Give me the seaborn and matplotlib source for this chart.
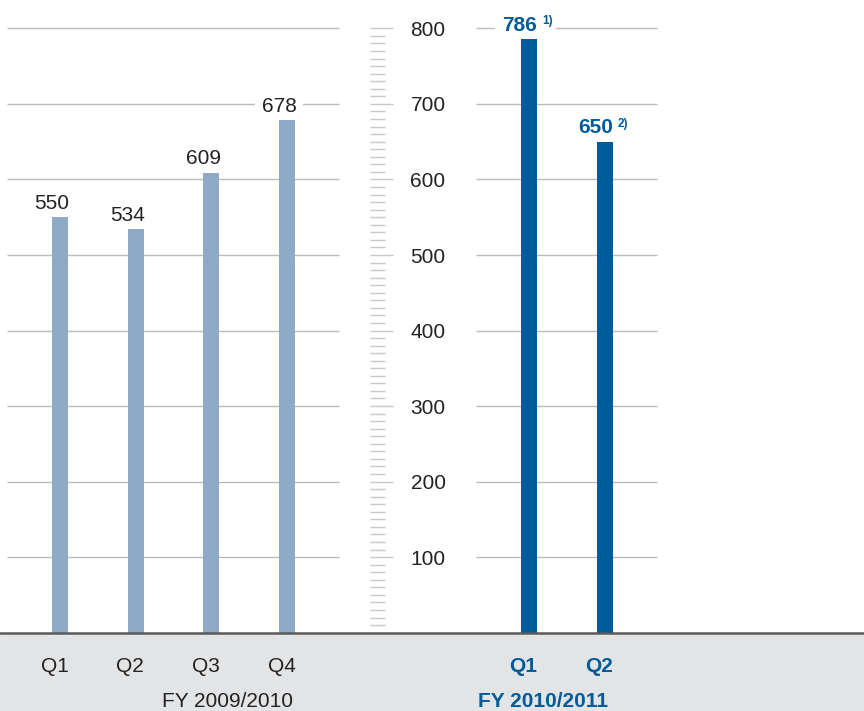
import numpy as np
import pandas as pd
import matplotlib
matplotlib.use("Agg")
import matplotlib.pyplot as plt
import seaborn as sns

# ---------------- data ----------------
quarters_prev = ["Q1", "Q2", "Q3", "Q4"]
values_prev = [550, 534, 609, 678]
quarters_curr = ["Q1", "Q2"]
values_curr = [786, 650]
notes_curr = ["1)", "2)"]
fy_prev = "FY 2009/2010"
fy_curr = "FY 2010/2011"
y_ticks = [100, 200, 300, 400, 500, 600, 700, 800]

# ---------------- style ----------------
sns.set_theme(style="white")
plt.rcParams["font.family"] = ["Liberation Sans", "DejaVu Sans"]

LIGHT = "#8eaac6"
DARK = "#005b9b"
TEXT = "#222222"
GRID = "#bcbcbc"
BAND = "#e3e4e6"
BASE = "#5a5a5a"

# layout (pixel-like units on x)
W, H = 864, 711
px_per_unit = 0.7555
y_top = 632.7 / px_per_unit
y_bot = -(H - 632.7) / px_per_unit
step_prev, start_prev = 75.67, 60
step_curr, start_curr = 76.0, 529
bar_w = 16

pos_prev = [start_prev + i * step_prev for i in range(len(values_prev))]
pos_curr = [start_curr + i * step_curr for i in range(len(values_curr))]

df_prev = pd.DataFrame({"pos": pos_prev, "value": values_prev, "q": quarters_prev})
df_curr = pd.DataFrame({"pos": pos_curr, "value": values_curr, "q": quarters_curr})

fig = plt.figure(figsize=(W / 100, H / 100), dpi=100)
ax = fig.add_axes([0, 0, 1, 1])

# band
ax.axhspan(y_bot, 0, color=BAND, zorder=0, lw=0)

# gridlines
for t in y_ticks:
    ax.hlines(t, 7, 339, color=GRID, lw=1.0, zorder=1)
    ax.hlines(t, 476, 657, color=GRID, lw=1.0, zorder=1)

# ladder of minor ticks
for v in range(10, 801, 10):
    x1 = 393 if v % 100 == 0 else 385
    ax.hlines(v, 370, x1, color="#c8c8c8", lw=1.0, zorder=1)

# y tick labels
for t in y_ticks:
    ax.text(428, t - 10, str(t), ha="center", va="baseline", fontsize=15,
            color=TEXT, zorder=3)

# bars
sns.barplot(data=df_prev, x="pos", y="value", native_scale=True,
            width=bar_w / step_prev, color=LIGHT, saturation=1,
            errorbar=None, ax=ax, zorder=2, linewidth=0, edgecolor="none")
sns.barplot(data=df_curr, x="pos", y="value", native_scale=True,
            width=bar_w / step_curr, color=DARK, saturation=1,
            errorbar=None, ax=ax, zorder=2, linewidth=0, edgecolor="none")

ax.axhline(0, color=BASE, lw=1.8, zorder=4)

# value labels
for p, v in zip(pos_prev, values_prev):
    ax.text(p - 8, v + 11, str(v), ha="center", va="baseline", fontsize=15,
            color=TEXT, zorder=1.5,
            bbox=dict(boxstyle="square,pad=0.3", fc="white", ec="none"))
for p, v, n in zip(pos_curr, values_curr, notes_curr):
    ax.text(p + 8, v + 11, str(v), ha="right", va="baseline", fontsize=15,
            fontweight="bold", color=DARK, zorder=1.5,
            bbox=dict(boxstyle="square,pad=0.35", fc="white", ec="none"))
    ax.text(p + 13, v + 11 + 8.5, n, ha="left", va="baseline", fontsize=8.5,
            fontweight="bold", color=DARK, zorder=1.5,
            bbox=dict(boxstyle="square,pad=0.3", fc="white", ec="none"))

# category labels
q_y = -41.4 - 10
fy_y = -87.8 - 10
for p, q in zip(pos_prev, quarters_prev):
    ax.text(p - 5.5, q_y, q, ha="center", va="baseline", fontsize=15, color=TEXT)
for p, q in zip(pos_curr, quarters_curr):
    ax.text(p - 5.5, q_y, q, ha="center", va="baseline", fontsize=15,
            fontweight="bold", color=DARK)
ax.text(228, fy_y, fy_prev, ha="center", va="baseline", fontsize=15, color=TEXT)
ax.text(543.5, fy_y, fy_curr, ha="center", va="baseline", fontsize=15,
        fontweight="bold", color=DARK)

ax.set_xlim(0, W)
ax.set_ylim(y_bot, y_top)
ax.axis("off")

fig.savefig("out.png", dpi=100)
